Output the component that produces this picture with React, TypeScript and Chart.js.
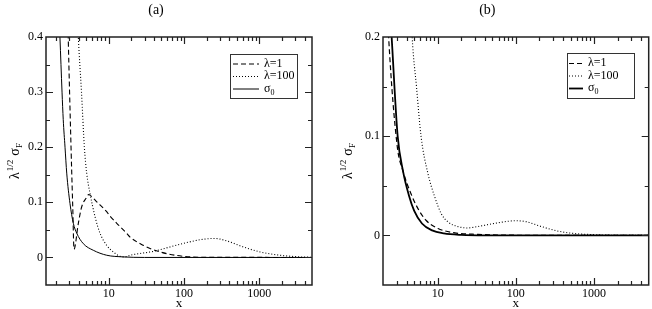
import React, { useEffect, useRef } from 'react';
import { Chart, registerables } from 'chart.js';
Chart.register(...registerables);

// ---------- Panel (a) data ----------
const A_L1_X = [2.85, 2.9, 3.16, 3.23, 3.33, 3.46, 3.95, 4.38, 5.1, 5.4, 5.65, 6.93, 9.4, 10.4, 12.8, 17.3, 19.2, 28.8, 48, 98, 200, 5000];
const A_L1_Y = [0.45, 0.40, 0.20, 0.153, 0.092, 0.015, 0.062, 0.092, 0.109, 0.114, 0.113, 0.101, 0.083, 0.075, 0.062, 0.044, 0.037, 0.022, 0.010, 0.002, 0.0003, 0];
const A_L100_X = [3.9, 3.95, 4.35, 4.75, 5.1, 5.65, 6.58, 7.66, 9.4, 11.5, 14.1, 16.4, 19.2, 39, 65, 109, 180, 258, 369, 614, 1020, 1880, 3470, 5000];
const A_L100_Y = [0.42, 0.40, 0.30, 0.20, 0.153, 0.116, 0.074, 0.044, 0.022, 0.010, 0.002, 0.001, 0.004, 0.011, 0.019, 0.027, 0.033, 0.0345, 0.030, 0.019, 0.010, 0.004, 0.001, 0.0003];
const A_S0_X = [2.2, 2.25, 2.4, 2.49, 2.63, 2.77, 3.06, 3.39, 3.76, 4.6, 6.24, 9.4, 15.5, 30, 5000];
const A_S0_Y = [0.43, 0.40, 0.30, 0.25, 0.20, 0.153, 0.098, 0.062, 0.044, 0.025, 0.013, 0.004, 0.001, 0, 0];

// ---------- Panel (b) data ----------
const B_L1_X = [2.3, 2.36, 3.04, 3.6, 4.56, 5.6, 7.14, 10.1, 16.5, 32.7, 80, 5000];
const B_L1_Y = [0.22, 0.20, 0.09, 0.065, 0.042, 0.027, 0.015, 0.007, 0.0026, 0.001, 0.0002, 0];
const B_L100_X = [4.55, 4.72, 5.36, 6.13, 7.5, 9.16, 11.1, 13.5, 18, 24, 35, 63, 100, 137, 203, 333, 542, 977, 2000, 5000];
const B_L100_Y = [0.23, 0.20, 0.15, 0.10, 0.0625, 0.039, 0.022, 0.0137, 0.009, 0.0075, 0.0094, 0.0131, 0.0148, 0.0137, 0.0094, 0.0046, 0.002, 0.0008, 0.0001, 0];
const B_S0_X = [2.45, 2.58, 3.08, 3.6, 4.3, 5.0, 6.3, 8.5, 12, 20, 40, 5000];
const B_S0_Y = [0.23, 0.20, 0.10, 0.065, 0.04, 0.025, 0.012, 0.005, 0.002, 0.0005, 0, 0];

// ---------- Axis ticks / labels ----------
const A_Y_TICKS = [0, 0.1, 0.2, 0.3, 0.4];
const B_Y_TICKS = [0, 0.1, 0.2];
const X_TICKS = [10, 100, 1000];
const LEGEND_LABELS = ['λ=1', 'λ=100', 'σ'];
const TITLES = ['(a)', '(b)'];

const SERIF = "'Liberation Serif', 'DejaVu Serif', serif";

const pts = (xs: number[], ys: number[]) => xs.map((x, i) => ({ x, y: ys[i] }));

const framePlugin = {
  id: 'frame',
  afterDatasetsDraw(chart: any) {
    const { ctx, chartArea: ca, scales } = chart;
    const xs = scales.x, ys = scales.y;
    ctx.save();
    ctx.strokeStyle = '#222';
    ctx.lineWidth = 1.5;
    ctx.strokeRect(ca.left, ca.top, ca.right - ca.left, ca.bottom - ca.top);
    ctx.lineWidth = 1.2;
    ctx.beginPath();
    const kmin = Math.floor(Math.log10(xs.min)), kmax = Math.ceil(Math.log10(xs.max));
    for (let k = kmin; k <= kmax; k++) {
      for (let m = 1; m <= 9; m++) {
        const v = m * Math.pow(10, k);
        if (v <= xs.min * 1.0001 || v >= xs.max * 0.9999) continue;
        const px = Math.round(xs.getPixelForValue(v)) + 0.5;
        const len = m === 1 ? 7 : 4;
        ctx.moveTo(px, ca.bottom); ctx.lineTo(px, ca.bottom - len);
        ctx.moveTo(px, ca.top); ctx.lineTo(px, ca.top + len);
      }
    }
    const n = Math.round((ys.max - ys.min) / 0.05);
    for (let i = 1; i < n; i++) {
      const v = ys.min + i * 0.05;
      const major = Math.abs(Math.round(v * 10) - v * 10) < 1e-6;
      const py = Math.round(ys.getPixelForValue(v)) + 0.5;
      const len = major ? 7 : 4;
      ctx.moveTo(ca.left, py); ctx.lineTo(ca.left + len, py);
      ctx.moveTo(ca.right, py); ctx.lineTo(ca.right - len, py);
    }
    ctx.stroke();
    ctx.restore();
  },
};

const legendPlugin = {
  id: 'boxLegend',
  afterDraw(chart: any, _args: any, opts: any) {
    const { ctx } = chart;
    const { left, top, width, height, rows, s0, s1, tx0 } = opts;
    ctx.save();
    ctx.strokeStyle = '#333';
    ctx.lineWidth = 1;
    ctx.strokeRect(left + 0.5, top + 0.5, width, height);
    const dsets = chart.data.datasets;
    ctx.fillStyle = '#000';
    ctx.textBaseline = 'middle';
    dsets.forEach((ds: any, i: number) => {
      const y = top + rows[i];
      ctx.beginPath();
      ctx.setLineDash(ds.borderDash || []);
      ctx.lineWidth = ds.borderWidth;
      ctx.strokeStyle = '#000';
      ctx.moveTo(left + s0, y + 0.5);
      ctx.lineTo(left + s1, y + 0.5);
      ctx.stroke();
      ctx.setLineDash([]);
      const tx = left + tx0;
      ctx.font = `12px ${SERIF}`;
      ctx.fillText(LEGEND_LABELS[i], tx, y);
      if (i === 2) {
        const w = ctx.measureText(LEGEND_LABELS[i]).width;
        ctx.font = `8px ${SERIF}`;
        ctx.fillText('0', tx + w, y + 4);
      }
    });
    ctx.restore();
  },
};

const yLabelPlugin = {
  id: 'yLabel',
  afterDraw(chart: any, _args: any, opts: any) {
    const { ctx, chartArea: ca } = chart;
    const cx = opts.x;
    const cy = (ca.top + ca.bottom) / 2;
    ctx.save();
    ctx.translate(cx, cy);
    ctx.rotate(-Math.PI / 2);
    ctx.fillStyle = '#000';
    ctx.textBaseline = 'alphabetic';
    const big = `14px ${SERIF}`, small = `9px ${SERIF}`;
    ctx.font = big; const wL = ctx.measureText('λ').width;
    ctx.font = small; const wH = ctx.measureText('1/2').width;
    ctx.font = big; const wS = ctx.measureText('σ').width;
    ctx.font = small; const wF = ctx.measureText('F').width;
    const gap = 4;
    const total = wL + 1 + wH + gap + wS + wF;
    let x = -total / 2;
    const base = 5;
    ctx.font = big; ctx.fillText('λ', x, base); x += wL + 1;
    ctx.font = small; ctx.fillText('1/2', x, base - 6); x += wH + gap;
    ctx.font = big; ctx.fillText('σ', x, base); x += wS;
    ctx.font = small; ctx.fillText('F', x, base + 3);
    ctx.restore();
  },
};

function makeConfig(panel: 'a' | 'b'): any {
  const isA = panel === 'a';
  const ds = (label: string, xs: number[], ys: number[], dash: number[], width: number) => ({
    label,
    data: pts(xs, ys),
    borderColor: '#000',
    borderWidth: width,
    borderDash: dash,
    pointRadius: 0,
    fill: false,
    cubicInterpolationMode: 'monotone',
  });
  const datasets = isA
    ? [
        ds('λ=1', A_L1_X, A_L1_Y, [5, 3], 1.1),
        ds('λ=100', A_L100_X, A_L100_Y, [1, 2], 1.1),
        ds('σ0', A_S0_X, A_S0_Y, [], 1),
      ]
    : [
        ds('λ=1', B_L1_X, B_L1_Y, [5, 3], 1.2),
        ds('λ=100', B_L100_X, B_L100_Y, [1, 2], 1.1),
        ds('σ0', B_S0_X, B_S0_Y, [], 1.8),
      ];
  const yTicks = isA ? A_Y_TICKS : B_Y_TICKS;
  return {
    type: 'line',
    data: { datasets },
    options: {
      animation: false,
      responsive: false,
      layout: { padding: { left: 0, right: isA ? 14 : 3.3, top: 0, bottom: 0 } },
      plugins: {
        legend: { display: false },
        tooltip: { enabled: false },
        title: {
          display: true,
          text: isA ? TITLES[0] : TITLES[1],
          color: '#000',
          font: { family: SERIF, size: 14, weight: 'normal', lineHeight: 1.2 },
          padding: { top: 2, bottom: 37 - 2 - 16.8 },
        },
        boxLegend: isA
          ? { left: 230, top: 54, width: 67, height: 44, rows: [9.5, 22, 34.5], s0: 3, s1: 29, tx0: 34 }
          : { left: 241, top: 53, width: 67, height: 45, rows: [10, 22.5, 35], s0: 2, s1: 16, tx0: 21 },
        yLabel: { x: isA ? 14 : 21 },
      },
      scales: {
        x: {
          type: 'logarithmic',
          min: isA ? 1.47 : 2,
          max: 5000,
          afterBuildTicks: (s: any) => { s.ticks = X_TICKS.map((v) => ({ value: v })); },
          afterFit: (s: any) => { s.height = 24; },
          grid: { display: false, drawTicks: false },
          border: { display: false },
          ticks: {
            autoSkip: false,
            maxRotation: 0,
            padding: 2,
            color: '#000',
            font: { family: SERIF, size: 12 },
            callback: (v: any) => String(v),
          },
          title: {
            display: true,
            text: 'x',
            color: '#000',
            font: { family: SERIF, size: 13, lineHeight: 1 },
            padding: { top: 0, bottom: -1 },
          },
        },
        y: {
          type: 'linear',
          min: -0.05,
          max: isA ? 0.4 : 0.2,
          afterBuildTicks: (s: any) => { s.ticks = yTicks.map((v) => ({ value: v })); },
          afterFit: (s: any) => { s.width = isA ? 46 : 57; },
          grid: { display: false, drawTicks: false },
          border: { display: false },
          ticks: {
            padding: 3,
            color: '#000',
            font: { family: SERIF, size: 12 },
            callback: (v: any) => (v === 0 ? '0' : Number(v).toFixed(1)),
          },
        },
      },
    },
    plugins: [framePlugin, legendPlugin, yLabelPlugin],
  };
}

function Panel({ panel, left }: { panel: 'a' | 'b'; left: number }) {
  const ref = useRef<HTMLCanvasElement | null>(null);
  useEffect(() => {
    if (!ref.current) return;
    const chart = new Chart(ref.current, makeConfig(panel));
    return () => chart.destroy();
  }, [panel]);
  return (
    <canvas
      ref={ref}
      width={326}
      height={309}
      style={{ position: 'absolute', left, top: 0, width: 326, height: 309, display: 'block' }}
    />
  );
}

export default function App() {
  return (
    <div style={{ position: 'absolute', left: 0, top: 0, width: 652, height: 309, background: '#fff' }}>
      <Panel panel="a" left={0} />
      <Panel panel="b" left={326} />
    </div>
  );
}
